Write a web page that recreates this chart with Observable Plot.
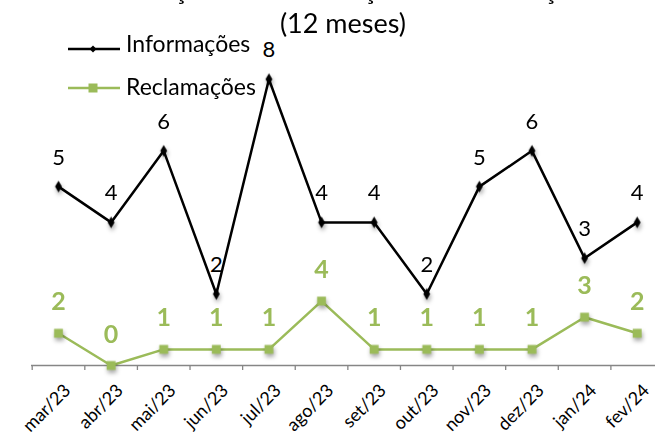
<!DOCTYPE html>
<html>
<head>
<meta charset="utf-8">
<script src="https://cdn.jsdelivr.net/npm/d3@7"></script>
<script src="https://cdn.jsdelivr.net/npm/@observablehq/plot@0.6"></script>
<style>
  html, body { margin: 0; padding: 0; background: #fff; }
  #chart { position: relative; width: 655px; height: 436px; overflow: hidden; font-family: Lato, "Open Sans", sans-serif; }
  #chart svg.plot { position: absolute; left: 0; top: 0; background: transparent; }
  #chart g[aria-label="dot"] { filter: drop-shadow(1px 3px 2px rgba(0,0,0,0.35)); }
  .title { position: absolute; left: 343px; transform: translateX(-50%); white-space: nowrap; font-size: 27px; line-height: 27px; color: #000; }
  .leg { position: absolute; left: 126px; font-size: 23px; line-height: 23px; color: #000; white-space: nowrap; }
  .legsym { position: absolute; left: 66px; }
</style>
</head>
<body>
<div id="chart">
  <div class="title" style="top:-25px">Solicitações de Informações e Reclamações</div>
  <div class="title" style="top:9px">(12 meses)</div>
</div>
<script>
const months = ["mar/23","abr/23","mai/23","jun/23","jul/23","ago/23","set/23","out/23","nov/23","dez/23","jan/24","fev/24"];
const informacoes = [5,4,6,2,8,4,4,2,5,6,3,4];
const reclamacoes = [2,0,1,1,1,4,1,1,1,1,3,2];
const seriesNames = ["Informações","Reclamações"];
const green = "#9BBB59";

const infoData = months.map((m, i) => ({month: m, value: informacoes[i]}));
const reclData = months.map((m, i) => ({month: m, value: reclamacoes[i]}));

const common = {
  width: 655, height: 436,
  marginTop: 43, marginBottom: 71, marginLeft: 31, marginRight: 0,
  style: {background: "transparent", overflow: "visible"}
};
const xRange = [31.7, 663];
const half = (xRange[1] - xRange[0]) / months.length / 2;

const p1 = Plot.plot({
  ...common,
  x: {type: "band", domain: months, range: xRange, padding: 0, round: false, label: null},
  y: {domain: [0, 9], axis: null},
  marks: [
    Plot.ruleY([0], {stroke: "#868686", strokeWidth: 1.3}),
    Plot.axisX({tickSize: 5, tickFormat: () => "", dx: -half, stroke: "#868686", strokeWidth: 1.3, label: null}),
    Plot.axisX({tickSize: 0, tickRotate: -45, tickPadding: 22, dx: 9, fontSize: 18, fill: "#000", fontFamily: "Lato", label: null}),
    Plot.line(infoData, {x: "month", y: "value", stroke: "#000", strokeWidth: 2.5}),
    Plot.dot(infoData, {x: "month", y: "value", symbol: "diamond", r: 3.6, fill: "#000"}),
    Plot.text(infoData, {x: "month", y: "value", text: d => String(d.value), dy: -29, lineAnchor: "middle", fontSize: 22, fill: "#000", fontFamily: "Lato"})
  ]
});
p1.classList.add("plot");

const p2 = Plot.plot({
  ...common,
  x: {type: "band", domain: months, range: xRange, padding: 0, round: false, axis: null, label: null},
  y: {domain: [0, 20], axis: null},
  marks: [
    Plot.line(reclData, {x: "month", y: "value", stroke: green, strokeWidth: 2.5}),
    Plot.dot(reclData, {x: "month", y: "value", symbol: "square", r: 5, fill: green}),
    Plot.text(reclData, {x: "month", y: "value", text: d => String(d.value), dy: -31, lineAnchor: "middle", fontSize: 25, fontWeight: "bold", fill: green, fontFamily: "Lato"})
  ]
});
p2.classList.add("plot");

const chart = document.getElementById("chart");
chart.insertBefore(p1, chart.firstChild);
chart.insertBefore(p2, p1.nextSibling);

// legend
const legendRows = [
  {name: seriesNames[0], color: "#000", symbol: "diamond", lineY: 49, top: 32},
  {name: seriesNames[1], color: green, symbol: "square", lineY: 88, top: 75}
];
legendRows.forEach(r => {
  const s = document.createElementNS("http://www.w3.org/2000/svg", "svg");
  s.setAttribute("class", "legsym");
  s.setAttribute("width", 58); s.setAttribute("height", 14);
  s.style.top = (r.lineY - 7) + "px";
  const ln = document.createElementNS(s.namespaceURI, "line");
  ln.setAttribute("x1", 2); ln.setAttribute("x2", 54); ln.setAttribute("y1", 7); ln.setAttribute("y2", 7);
  ln.setAttribute("stroke", r.color); ln.setAttribute("stroke-width", 2.5);
  s.appendChild(ln);
  const sym = document.createElementNS(s.namespaceURI, "path");
  sym.setAttribute("d", r.symbol === "diamond" ? "M27,3.5L30.5,7L27,10.5L23.5,7Z" : "M22.5,2.5H31.5V11.5H22.5Z");
  sym.setAttribute("fill", r.color);
  s.appendChild(sym);
  chart.appendChild(s);
  const t = document.createElement("div");
  t.className = "leg";
  t.style.top = r.top + "px";
  t.textContent = r.name;
  chart.appendChild(t);
});
</script>
</body>
</html>
